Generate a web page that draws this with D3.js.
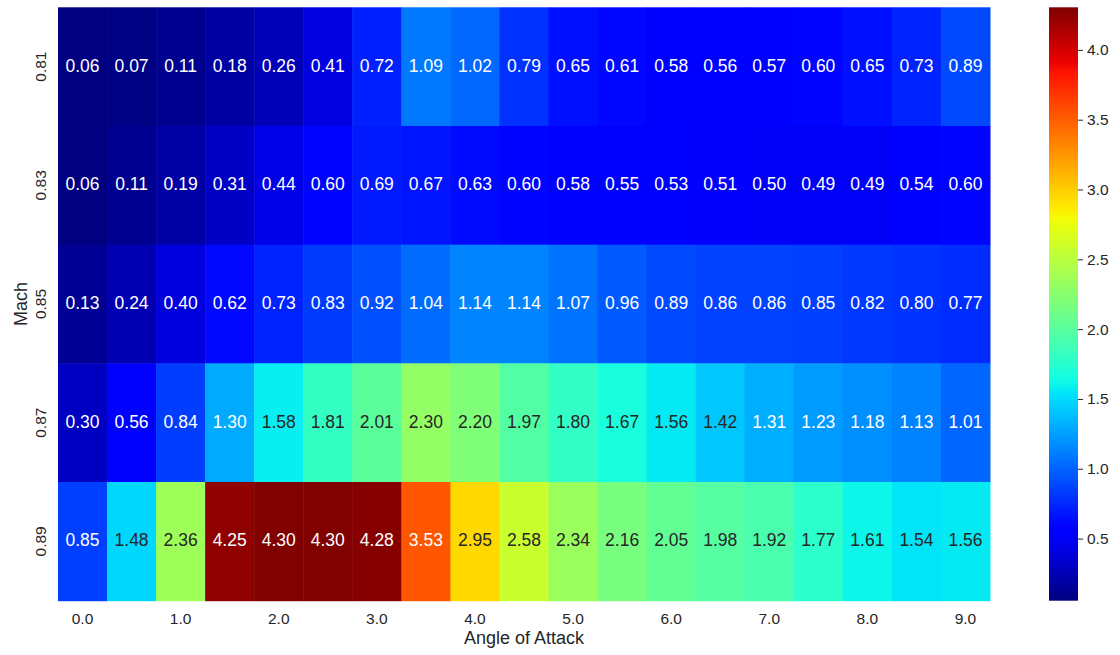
<!DOCTYPE html>
<html>
<head>
<meta charset="utf-8">
<script src="https://cdn.jsdelivr.net/npm/d3@7"></script>
<style>
  html, body { margin: 0; padding: 0; background: #fff; }
  svg { display: block; font-family: "Liberation Sans", Arial, sans-serif; }
</style>
</head>
<body>
<svg id="chart" width="1120" height="655"></svg>
<script>
const angles = ["0.0","0.5","1.0","1.5","2.0","2.5","3.0","3.5","4.0","4.5","5.0","5.5","6.0","6.5","7.0","7.5","8.0","8.5","9.0"];
const machs = ["0.81","0.83","0.85","0.87","0.89"];
const row081 = [0.06,0.07,0.11,0.18,0.26,0.41,0.72,1.09,1.02,0.79,0.65,0.61,0.58,0.56,0.57,0.60,0.65,0.73,0.89];
const row083 = [0.06,0.11,0.19,0.31,0.44,0.60,0.69,0.67,0.63,0.60,0.58,0.55,0.53,0.51,0.50,0.49,0.49,0.54,0.60];
const row085 = [0.13,0.24,0.40,0.62,0.73,0.83,0.92,1.04,1.14,1.14,1.07,0.96,0.89,0.86,0.86,0.85,0.82,0.80,0.77];
const row087 = [0.30,0.56,0.84,1.30,1.58,1.81,2.01,2.30,2.20,1.97,1.80,1.67,1.56,1.42,1.31,1.23,1.18,1.13,1.01];
const row089 = [0.85,1.48,2.36,4.25,4.30,4.30,4.28,3.53,2.95,2.58,2.34,2.16,2.05,1.98,1.92,1.77,1.61,1.54,1.56];
const xTickLabels = ["0.0","1.0","2.0","3.0","4.0","5.0","6.0","7.0","8.0","9.0"];
const cbarTicks = [0.5,1.0,1.5,2.0,2.5,3.0,3.5,4.0];
const vmin = 0.055, vmax = 4.305;

const rows = [row081,row083,row085,row087,row089];
const cells = [];
rows.forEach((r, i) => r.forEach((v, j) => cells.push({mach: machs[i], aoa: angles[j], v})));

// matplotlib jet
function interpSeg(seg, t) {
  for (let k = 1; k < seg.length; k++) {
    if (t <= seg[k][0]) {
      const [x0, y0] = seg[k-1], [x1, y1] = seg[k];
      return y0 + (y1 - y0) * (t - x0) / (x1 - x0);
    }
  }
  return seg[seg.length-1][1];
}
const jR = [[0,0],[0.35,0],[0.66,1],[0.89,1],[1,0.5]];
const jG = [[0,0],[0.125,0],[0.375,1],[0.64,1],[0.91,0],[1,0]];
const jB = [[0,0.5],[0.11,1],[0.34,1],[0.65,0],[1,0]];
function jetArr(t) {
  t = Math.max(0, Math.min(1, t));
  return [interpSeg(jR,t), interpSeg(jG,t), interpSeg(jB,t)];
}
function jet(t) {
  const c = jetArr(t);
  return d3.rgb(c[0]*255, c[1]*255, c[2]*255).formatHex();
}
const color = d3.scaleSequential(jet).domain([vmin, vmax]);
function lum(v) {
  const c = jetArr((v - vmin) / (vmax - vmin)).map(x => x <= 0.03928 ? x/12.92 : Math.pow((x+0.055)/1.055, 2.4));
  return 0.2126*c[0] + 0.7152*c[1] + 0.0722*c[2];
}

const svg = d3.select("#chart");
const x = d3.scaleBand().domain(angles).range([58, 990]);
const y = d3.scaleBand().domain(machs).range([7.3, 600.7]);

svg.append("g").selectAll("rect").data(cells).join("rect")
  .attr("x", d => x(d.aoa)).attr("y", d => y(d.mach))
  .attr("width", x.bandwidth() + 0.5).attr("height", y.bandwidth() + 0.5)
  .attr("fill", d => color(d.v));

svg.append("g").selectAll("text").data(cells).join("text")
  .attr("x", d => x(d.aoa) + x.bandwidth()/2)
  .attr("y", d => y(d.mach) + y.bandwidth()/2 - 1)
  .attr("text-anchor", "middle").attr("dominant-baseline", "central")
  .attr("font-size", "17.5px")
  .attr("fill", d => lum(d.v) > 0.408 ? "#262626" : "#ffffff")
  .text(d => d.v.toFixed(2));

// x axis
const xAxis = d3.axisBottom(x)
  .tickValues(angles.filter(a => xTickLabels.includes(a)))
  .tickSize(0).tickPadding(12);
const gx = svg.append("g").attr("transform", "translate(0,600.7)").call(xAxis);
gx.select(".domain").remove();
gx.selectAll("text").attr("font-size", "15.5px").attr("fill", "#262626").attr("font-family", "Liberation Sans, Arial, sans-serif");

// y axis (rotated labels)
svg.append("g").selectAll("text").data(machs).join("text")
  .attr("transform", d => `translate(40,${y(d) + y.bandwidth()/2}) rotate(-90)`)
  .attr("text-anchor", "middle").attr("dominant-baseline", "central")
  .attr("font-size", "15.5px").attr("fill", "#262626")
  .text(d => d);

// axis labels
svg.append("text").attr("x", 524).attr("y", 644)
  .attr("text-anchor", "middle").attr("font-size", "18px").attr("fill", "#262626")
  .text("Angle of Attack");
svg.append("text").attr("transform", "translate(27,304) rotate(-90)")
  .attr("text-anchor", "middle").attr("font-size", "18px").attr("fill", "#262626")
  .text("Mach");

// colorbar
const cbX = 1049, cbW = 29;
const cy = d3.scaleLinear().domain([vmin, vmax]).range([600.7, 7.3]);
const defs = svg.append("defs");
const grad = defs.append("linearGradient").attr("id", "jetgrad")
  .attr("x1", 0).attr("y1", 1).attr("x2", 0).attr("y2", 0);
d3.range(0, 1.0001, 0.01).forEach(t => {
  grad.append("stop").attr("offset", t).attr("stop-color", jet(t));
});
svg.append("rect").attr("x", cbX).attr("y", cy(vmax))
  .attr("width", cbW).attr("height", cy(vmin) - cy(vmax))
  .attr("fill", "url(#jetgrad)");
const cAxis = d3.axisRight(cy).tickValues(cbarTicks).tickFormat(d3.format(".1f")).tickSize(5).tickPadding(4);
const gc = svg.append("g").attr("transform", `translate(${cbX + cbW},0)`).call(cAxis);
gc.select(".domain").remove();
gc.selectAll("line").attr("stroke", "#262626");
gc.selectAll("text").attr("font-size", "15.5px").attr("fill", "#262626").attr("font-family", "Liberation Sans, Arial, sans-serif");
</script>
</body>
</html>
